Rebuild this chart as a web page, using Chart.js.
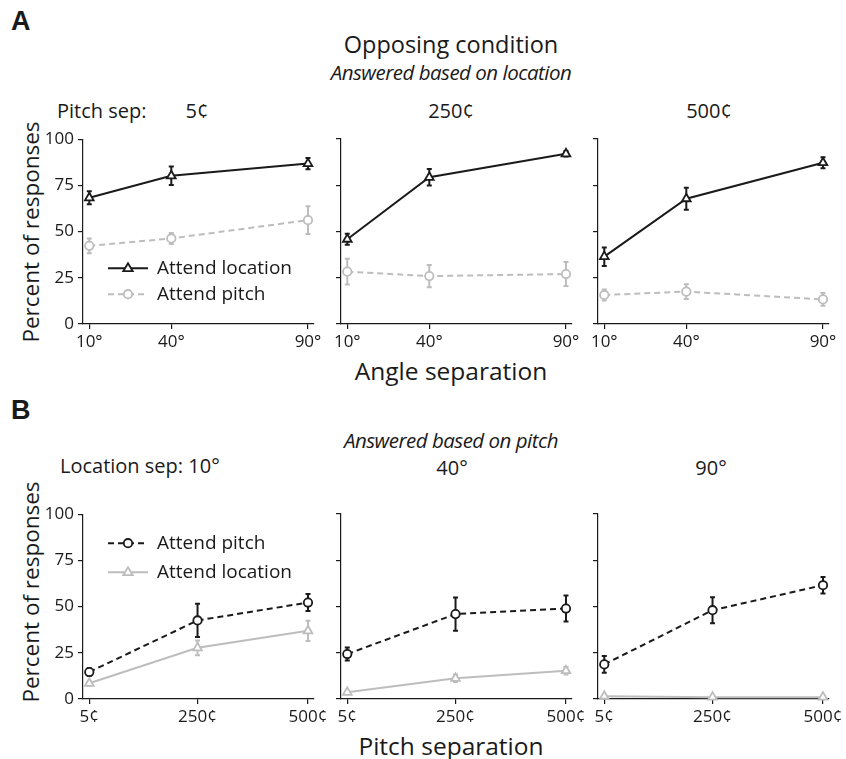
<!DOCTYPE html>
<html>
<head>
<meta charset="utf-8">
<script src="https://cdn.jsdelivr.net/npm/chart.js@4.4.0/dist/chart.umd.min.js"></script>
<style>
  body { margin: 0; background: #fff; }
  #fig { position: relative; width: 846px; height: 759px; font-family: "Open Sans", sans-serif; color: #1a1a1a; }
  #fig canvas { position: absolute; }
  .t { position: absolute; white-space: nowrap; line-height: 1; }
  .c { transform: translateX(-50%); }
  .big { font-size: 23.5px; }
  .it { font-style: italic; font-size: 20.5px; letter-spacing: -0.5px; }
  .axt { font-size: 24.5px; }
  .lab { font-size: 20px; }
  .letter { font-size: 27px; font-weight: bold; font-family: "Liberation Sans", Arial, sans-serif; }
  .ytitle { font-size: 22.5px; transform: translate(-50%, -50%) rotate(-90deg); }
</style>
</head>
<body>
<div id="fig">
  <div class="t letter" style="left:11px;top:8px">A</div>
  <div class="t big c" style="left:451px;top:33px">Opposing condition</div>
  <div class="t it c" style="left:451px;top:62px">Answered based on location</div>
  <div class="t lab" style="left:57px;top:101px">Pitch sep:</div>
  <div class="t lab c" style="left:197px;top:101px">5¢</div>
  <div class="t lab c" style="left:451px;top:101px">250¢</div>
  <div class="t lab c" style="left:709px;top:101px">500¢</div>
  <div class="t ytitle" style="left:31px;top:232px">Percent of responses</div>
  <div class="t axt c" style="left:451px;top:359px">Angle separation</div>

  <div class="t letter" style="left:11px;top:397px">B</div>
  <div class="t it c" style="left:451px;top:430px">Answered based on pitch</div>
  <div class="t lab" style="left:60px;top:456px">Location sep: 10°</div>
  <div class="t lab c" style="left:452px;top:458px">40°</div>
  <div class="t lab c" style="left:711px;top:458px">90°</div>
  <div class="t ytitle" style="left:31px;top:592px">Percent of responses</div>
  <div class="t axt c" style="left:451px;top:734px">Pitch separation</div>
</div>
<script>
// x positions and tick labels
const angleSeps = [10, 40, 90];
const angleLabels = ['10°', '40°', '90°'];
const pitchSeps = [5, 250, 500];
const pitchLabels = ['5¢', '250¢', '500¢'];
const yTicks = [0, 25, 50, 75, 100];

// A: answered based on location (one row per pitch sep 5, 250, 500)
const locAttendLoc = [[68.3, 80.2, 86.8], [45.8, 79.3, 92.0], [36.4, 67.7, 87.2]];
const locAttendLocErr = [[3.5, 5, 3], [3, 4.5, 1.5], [5, 6, 3]];
const locAttendPitch = [[42.3, 46.3, 56.2], [28.3, 25.9, 27.0], [15.7, 17.5, 13.3]];
const locAttendPitchErr = [[4, 3, 7.5], [7, 6, 6.5], [3, 4, 3.5]];

// B: answered based on pitch (one row per location sep 10, 40, 90)
const pitchAttendPitch = [[14.6, 42.5, 52.2], [24.3, 45.9, 48.9], [18.7, 48.0, 61.5]];
const pitchAttendPitchErr = [[2, 9, 4.6], [3.5, 9, 7], [4.5, 7, 4.5]];
const pitchAttendLoc = [[8.5, 27.7, 36.9], [3.6, 11.2, 15.3], [1.5, 1.0, 1.0]];
const pitchAttendLocErr = [[1, 4, 5.5], [1, 2, 2], [0.5, 0.5, 0.5]];

const BLACK = '#1a1a1a';
const GREY = '#bdbdbd';
const FONT = '"Open Sans", sans-serif';

// error bars drawn under each dataset
const errorBars = {
  id: 'errorBars',
  beforeDatasetDraw(chart, args) {
    const ds = chart.data.datasets[args.index];
    if (!ds.errs) return;
    const ctx = chart.ctx, y = chart.scales.y;
    ctx.save();
    ctx.strokeStyle = ds.borderColor;
    ctx.lineWidth = 2;
    args.meta.data.forEach((pt, i) => {
      const v = ds.data[i].y, e = ds.errs[i];
      const y1 = y.getPixelForValue(v + e), y2 = y.getPixelForValue(v - e);
      ctx.beginPath();
      ctx.moveTo(pt.x, y1); ctx.lineTo(pt.x, y2);
      ctx.moveTo(pt.x - 2.5, y1); ctx.lineTo(pt.x + 2.5, y1);
      ctx.moveTo(pt.x - 2.5, y2); ctx.lineTo(pt.x + 2.5, y2);
      ctx.stroke();
    });
    ctx.restore();
  }
};

// legend with line + marker sample
const lineLegend = {
  id: 'lineLegend',
  afterDraw(chart) {
    const opt = chart.options.plugins.lineLegend;
    if (!opt || !opt.show) return;
    const ctx = chart.ctx, a = chart.chartArea;
    chart.data.datasets.forEach((ds, i) => {
      const yy = a.top + opt.top + i * opt.gap;
      const cx = a.left + 45, r = ds.pointRadius;
      ctx.save();
      ctx.strokeStyle = ds.borderColor;
      ctx.lineWidth = 2;
      ctx.setLineDash(ds.borderDash || []);
      ctx.beginPath();
      ctx.moveTo(a.left + 25, yy); ctx.lineTo(a.left + 65, yy);
      ctx.stroke();
      ctx.setLineDash([]);
      ctx.fillStyle = '#fff';
      ctx.lineWidth = ds.pointBorderWidth;
      ctx.beginPath();
      if (ds.pointStyle === 'circle') {
        ctx.arc(cx, yy, r, 0, Math.PI * 2);
      } else {
        ctx.moveTo(cx, yy - r); ctx.lineTo(cx + r * 0.95, yy + r * 0.6); ctx.lineTo(cx - r * 0.95, yy + r * 0.6); ctx.closePath();
      }
      ctx.fill(); ctx.stroke();
      ctx.fillStyle = BLACK;
      ctx.font = '19px ' + FONT;
      ctx.textBaseline = 'middle';
      ctx.fillText(ds.label, a.left + 74, yy);
      ctx.restore();
    });
  }
};

function series(label, xs, ys, errs, color, dashed, style) {
  return {
    label: label,
    data: xs.map((x, i) => ({ x: x, y: ys[i] })),
    errs: errs,
    borderColor: color,
    borderWidth: 2,
    borderDash: dashed ? [6, 4] : [],
    pointStyle: style,
    pointRadius: style === 'triangle' ? 5 : 4.2,
    pointBorderWidth: 1.8,
    pointBorderColor: color,
    pointBackgroundColor: '#fff',
    tension: 0,
    clip: false
  };
}

const PW = 231, PH = 185, PADL = 62, PADT = 14, PADR = 22, PADB = 46;

function panel(left, top, xs, xLabels, xMin, xMax, datasets, first, legend) {
  const cv = document.createElement('canvas');
  cv.width = PADL + PW + PADR;
  cv.height = PADT + PH + PADB;
  cv.style.left = (left - PADL) + 'px';
  cv.style.top = (top - PADT) + 'px';
  document.getElementById('fig').appendChild(cv);
  new Chart(cv, {
    type: 'line',
    data: { datasets: datasets },
    plugins: [errorBars, lineLegend],
    options: {
      responsive: false,
      animation: false,
      layout: { padding: { top: PADT, right: PADR, left: 0, bottom: 0 } },
      plugins: {
        legend: { display: false },
        tooltip: { enabled: false },
        lineLegend: legend
      },
      scales: {
        x: {
          type: 'linear', min: xMin, max: xMax,
          afterBuildTicks: s => { s.ticks = xs.map(v => ({ value: v })); },
          afterFit: s => { s.height = PADB; },
          grid: { drawOnChartArea: false, tickLength: 5, color: BLACK, lineWidth: 1.2 },
          border: { display: true, color: BLACK, width: 1.2 },
          ticks: {
            color: BLACK, padding: 3, maxRotation: 0,
            font: { family: FONT, size: 17 },
            callback: v => xLabels[xs.indexOf(v)]
          }
        },
        y: {
          min: 0, max: 100,
          afterBuildTicks: s => { s.ticks = yTicks.map(v => ({ value: v })); },
          afterFit: s => { s.width = PADL; },
          grid: { drawOnChartArea: false, tickLength: 5, color: BLACK, lineWidth: 1.2 },
          border: { display: true, color: BLACK, width: 1.2 },
          ticks: {
            display: first, color: BLACK, padding: 4,
            font: { family: FONT, size: 17 }
          }
        }
      }
    }
  });
}

const lefts = [83, 341, 598];
for (let k = 0; k < 3; k++) {
  panel(lefts[k], 139, angleSeps, angleLabels, 7.7, 92.2, [
    series('Attend location', angleSeps, locAttendLoc[k], locAttendLocErr[k], BLACK, false, 'triangle'),
    series('Attend pitch', angleSeps, locAttendPitch[k], locAttendPitchErr[k], GREY, true, 'circle')
  ], k === 0, { show: k === 0, top: 129, gap: 26 });

  panel(lefts[k], 514, pitchSeps, pitchLabels, -9.2, 513.6, [
    series('Attend pitch', pitchSeps, pitchAttendPitch[k], pitchAttendPitchErr[k], BLACK, true, 'circle'),
    series('Attend location', pitchSeps, pitchAttendLoc[k], pitchAttendLocErr[k], GREY, false, 'triangle')
  ], k === 0, { show: k === 0, top: 29, gap: 29 });
}
</script>
</body>
</html>
